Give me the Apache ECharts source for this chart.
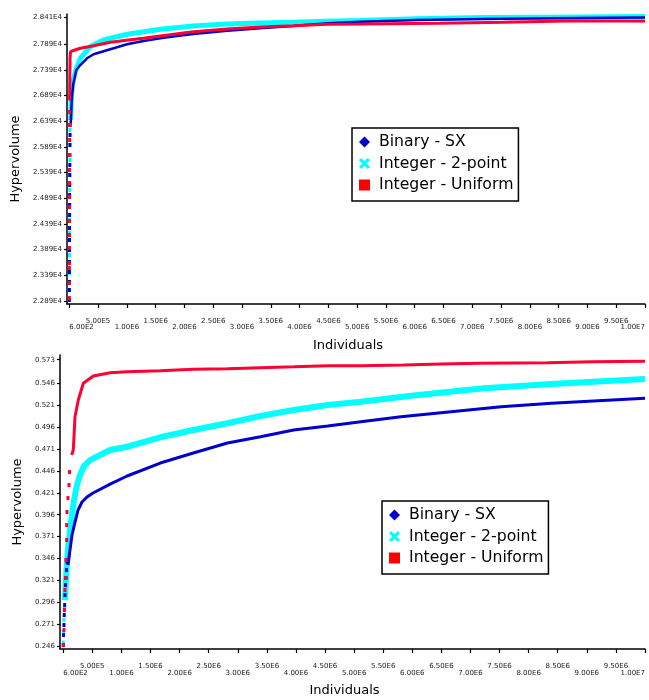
<!DOCTYPE html>
<html>
<head>
<meta charset="utf-8">
<script src="https://cdn.jsdelivr.net/npm/echarts@6/dist/echarts.min.js"></script>
<style>
html,body{margin:0;padding:0;background:#fff;}
#chart{width:649px;height:700px;}
</style>
</head>
<body>
<div id="chart"></div>
<script>
// ---------- names ----------
const seriesNames = ['Binary - SX', 'Integer - 2-point', 'Integer - Uniform'];

// ---------- tick labels ----------
const xTicks = [600, 500000, 1000000, 1500000, 2000000, 2500000, 3000000, 3500000, 4000000, 4500000,
  5000000, 5500000, 6000000, 6500000, 7000000, 7500000, 8000000, 8500000, 9000000, 9500000, 10000000];
const topYTicks = [22890, 23390, 23890, 24390, 24890, 25390, 25890, 26390, 26890, 27390, 27890, 28410];
const bottomYTicks = [0.246, 0.271, 0.296, 0.321, 0.346, 0.371, 0.396, 0.421, 0.446, 0.471, 0.496, 0.521, 0.546, 0.573];

// ---------- top chart (hypervolume ~E4) ----------
const topBinaryDots = [[600,22909],[1000,23104],[1500,23260],[2000,23454],[2500,23649],[3000,23882],[3500,24077],
  [4000,24310],[5000,24563],[5500,24758],[6000,24953],[7000,25147],[8000,25342],[9000,25536],[10000,25731],
  [11000,25926],[13000,26120],[15000,26315]];
const topBinaryLine = [[25000,26350],[29514,26471],[46875,26879],[69444,27113],[121527,27385],[190972,27482],
  [307291,27613],[421875,27691],[711805,27788],[1001736,27885],[1289930,27950],[1579861,28002],[1869791,28047],
  [2152777,28086],[2743055,28150],[3315972,28197],[3888888,28242],[4479166,28294],[5052083,28325],[6041666,28358],
  [7187500,28377],[8350694,28391],[10000000,28407]];

const topTwoPointDots = [[1200,23104],[2200,23435],[3200,23785],[4200,24077],[5200,24213],[6200,24466],[7200,24758],
  [8200,25050],[9200,25342],[10200,25634],[11200,25926],[12200,26218]];
const topTwoPointLine = [[22569,26412],[34722,26801],[52083,27093],[104166,27352],[190972,27613],[364583,27839],
  [590277,27969],[1006944,28080],[1579861,28177],[2152777,28242],[2743055,28280],[3315972,28300],[3888888,28313],
  [4479166,28333],[5052083,28348],[6041666,28385],[7187500,28405],[8350694,28414],[10000000,28424]];

const topUniformDots = [[600,22948],[1000,23240],[1400,23532],[1800,23629],[2200,23921],[2600,24174],[3000,24447],
  [3400,24719],[3800,24914],[4200,25186],[4600,25439],[5000,25731],[5400,26023],[5800,26315],[6200,26568]];
const topUniformLine = [[5000,26790],[9000,27230],[13000,27600],[20000,27740],[60000,27760],[190972,27808],
  [421875,27858],[711805,27924],[1284722,28002],[1579861,28047],[2152777,28131],[2743055,28183],[3315972,28222],
  [3888888,28247],[4479166,28275],[5052083,28280],[6440972,28294],[7534722,28313],[8645833,28339],[10000000,28339]];

// ---------- bottom chart (hypervolume 0..1) ----------
const botBinaryDots = [[600,0.2471],[5172,0.2585],[12069,0.2700],[17241,0.2814],[24137,0.2928],[29310,0.3043],
  [37930,0.3157],[46551,0.3237],[55172,0.3328],[63793,0.3419]];
const botBinaryLine = [[81034,0.3385],[115517,0.3557],[149999,0.3728],[201724,0.3876],[253448,0.4013],[322413,0.4105],
  [408620,0.4162],[512068,0.4208],[805172,0.4310],[1098275,0.4402],[1667241,0.4550],[2236206,0.4664],[2822413,0.4779],
  [3391379,0.4851],[3960344,0.4927],[4546551,0.4973],[5115517,0.5022],[5804310,0.5079],[6666379,0.5136],
  [7528448,0.5193],[8390517,0.5232],[10000000,0.5289]];

const botTwoPointDots = [[1000,0.2500],[6000,0.2620],[12000,0.2760],[18000,0.2890]];
const botTwoPointLine = [[29310,0.2985],[55172,0.3328],[81034,0.3557],[115517,0.3785],[149999,0.3956],[184482,0.4128],
  [236206,0.4299],[287931,0.4413],[356896,0.4516],[460344,0.4584],[632758,0.4642],[805172,0.4699],[1098275,0.4736],
  [1667241,0.4844],[2236206,0.4927],[2822413,0.5004],[3391379,0.5087],[3960344,0.5156],[4546551,0.5213],
  [5115517,0.5250],[6098275,0.5327],[7236206,0.5403],[8391379,0.5453],[10000000,0.5510]];

const botUniformDots = [[600,0.2471],[12069,0.2643],[20689,0.2871],[29310,0.3100],[37930,0.3237],[46551,0.3442],
  [58620,0.3671],[58620,0.3842],[63793,0.3991],[81034,0.4150],[98275,0.4299],[106896,0.4447]];
const botUniformLine = [[144827,0.4642],[172413,0.4699],[201724,0.5079],[258620,0.5270],[344827,0.5461],[517241,0.5544],
  [805172,0.5582],[1093103,0.5593],[1667241,0.5604],[2236206,0.5620],[2817241,0.5627],[3391379,0.5639],[3965517,0.5650],
  [4541379,0.5662],[5115517,0.5662],[5856896,0.5670],[6494827,0.5681],[7127586,0.5689],[8334482,0.5696],
  [9081034,0.5707],[10000000,0.5712]];

// ---------- styling ----------
const FONT = 'DejaVu Sans';
const colBlue = '#0000cc', colCyan = '#00ffff', colRed = '#ff0033';
const xPath = 'path://M0,2 L2,0 L5,3 L8,0 L10,2 L7,5 L10,8 L8,10 L5,7 L2,10 L0,8 L3,5 Z';
const xTicksLow = xTicks.filter((v, i) => i % 2 === 0);   // lower row of labels
const xTicksHigh = xTicks.filter((v, i) => i % 2 === 1);  // upper row of labels

function fmtX(v) {
  return v.toExponential(2).replace('e+', 'E').replace('e', 'E');
}

// main x axis: line, ticks, upper label row, name
function makeX(gi, min) {
  return {
    type: 'value', gridIndex: gi, min: min, max: 10000000, position: 'bottom',
    splitLine: {show: false},
    axisLine: {onZero: false, lineStyle: {color: '#000', width: 1.5}},
    axisTick: {customValues: xTicks, length: 4, lineStyle: {color: '#000', width: 1.2}},
    axisLabel: {
      customValues: xTicksHigh, margin: 14, color: '#222', fontFamily: FONT, fontSize: 7,
      showMinLabel: true, showMaxLabel: true, hideOverlap: false, formatter: fmtX
    },
    name: 'Individuals', nameLocation: 'middle', nameGap: 35,
    nameTextStyle: {fontFamily: FONT, fontSize: 13, color: '#000', padding: [0, 16, 0, 0]}
  };
}
// companion x axis: lower label row only
function makeX2(gi, min, margin) {
  return {
    type: 'value', gridIndex: gi, min: min, max: 10000000, position: 'bottom',
    splitLine: {show: false},
    axisLine: {show: false, onZero: false},
    axisTick: {show: false},
    axisLabel: {
      customValues: xTicksLow, margin: margin, color: '#222', fontFamily: FONT, fontSize: 7,
      showMinLabel: true, showMaxLabel: true, hideOverlap: false,
      alignMinLabel: 'left', alignMaxLabel: 'right', formatter: fmtX
    }
  };
}

function makeY(gi, min, max, ticks, fmt, gap) {
  return {
    type: 'value', gridIndex: gi, min: min, max: max,
    splitLine: {show: false},
    axisLine: {show: true, onZero: false, lineStyle: {color: '#000', width: 1.5}},
    axisTick: {show: true, customValues: ticks, length: 3, lineStyle: {color: '#000', width: 1.2}},
    axisLabel: {customValues: ticks, margin: 5, color: '#222', fontFamily: FONT, fontSize: 7, formatter: fmt,
      showMinLabel: true, showMaxLabel: true},
    name: 'Hypervolume', nameLocation: 'middle', nameGap: gap,
    nameTextStyle: {fontFamily: FONT, fontSize: 13, color: '#000'}
  };
}

function lineS(name, data, xi, yi, color, width, z) {
  return {
    name: name, type: 'line', xAxisIndex: xi, yAxisIndex: yi, data: data,
    showSymbol: false, symbol: 'none', smooth: false, z: z,
    lineStyle: {color: color, width: width}, itemStyle: {color: color, opacity: 1}
  };
}
function dotS(name, data, xi, yi, color, z) {
  return {
    name: name, type: 'scatter', xAxisIndex: xi, yAxisIndex: yi, data: data,
    symbol: 'rect', symbolSize: [3, 4], z: z, itemStyle: {color: color, opacity: 1}
  };
}

function legendAt(left, top) {
  return {
    orient: 'vertical', left: left, top: top,
    backgroundColor: '#fff', borderColor: '#000', borderWidth: 1.5,
    padding: [6, 5, 8, 7], itemGap: 5.5, itemWidth: 11, itemHeight: 11,
    textStyle: {fontFamily: FONT, fontSize: 15.7, color: '#000', lineHeight: 15, padding: [0, 0, 0, 4]},
    data: [
      {name: seriesNames[0], icon: 'diamond', itemStyle: {color: colBlue, opacity: 1}},
      {name: seriesNames[1], icon: xPath, itemStyle: {color: colCyan, opacity: 1}},
      {name: seriesNames[2], icon: 'rect', itemStyle: {color: '#ff0000', opacity: 1}}
    ]
  };
}

const chart = echarts.init(document.getElementById('chart'), null, {renderer: 'canvas'});
chart.setOption({
  animation: false,
  backgroundColor: '#fff',
  grid: [
    {left: 67, right: 4, top: 14, height: 290},
    {left: 60, right: 4, top: 355, height: 294}
  ],
  legend: [legendAt(352, 128), legendAt(382, 501)],
  xAxis: [makeX(0, -40000), makeX2(0, -40000, 20), makeX(1, -56000), makeX2(1, -56000, 21)],
  yAxis: [
    makeY(0, 22832, 28475, topYTicks, v => v.toExponential(3).replace('e+', 'E'), 37),
    makeY(1, 0.2426, 0.5784, bottomYTicks, v => v.toFixed(3), 35)
  ],
  series: [
    dotS(seriesNames[1], topTwoPointDots, 0, 0, colCyan, 2),
    dotS(seriesNames[0], topBinaryDots, 0, 0, colBlue, 3),
    dotS(seriesNames[2], topUniformDots, 0, 0, colRed, 4),
    lineS(seriesNames[1], topTwoPointLine, 0, 0, colCyan, 5, 2),
    lineS(seriesNames[0], topBinaryLine, 0, 0, colBlue, 2.5, 3),
    lineS(seriesNames[2], topUniformLine, 0, 0, colRed, 3, 4),

    dotS(seriesNames[1], botTwoPointDots, 2, 1, colCyan, 2),
    dotS(seriesNames[0], botBinaryDots, 2, 1, colBlue, 3),
    dotS(seriesNames[2], botUniformDots, 2, 1, colRed, 4),
    lineS(seriesNames[1], botTwoPointLine, 2, 1, colCyan, 6, 2),
    lineS(seriesNames[0], botBinaryLine, 2, 1, colBlue, 3, 3),
    lineS(seriesNames[2], botUniformLine, 2, 1, colRed, 3, 4)
  ]
});
</script>
</body>
</html>
